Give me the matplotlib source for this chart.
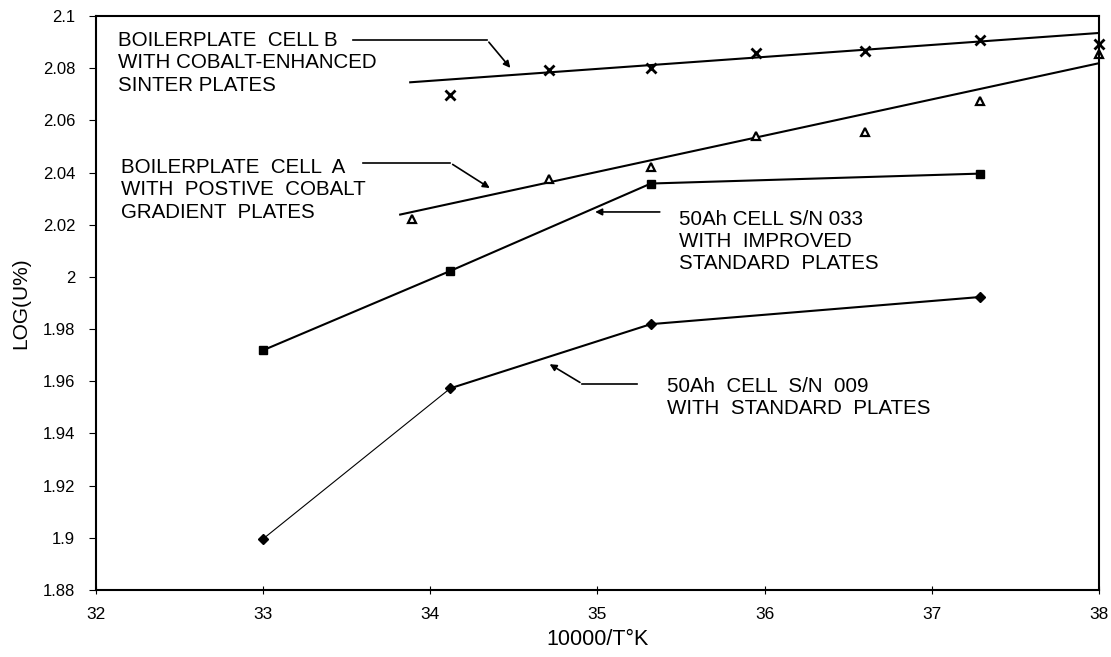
import numpy as np
import matplotlib
matplotlib.use("Agg")
from matplotlib import pyplot as plt

plt.rcParams['font.family'] = ['Liberation Sans', 'DejaVu Sans']

# boilerplate cell B (x markers) and its trend line
b_x = [34.12, 34.71, 35.32, 35.95, 36.60, 37.29, 38.00]
b_y = [2.0696, 2.0795, 2.0800, 2.0858, 2.0865, 2.0907, 2.0892]
b_trend_x = [33.88, 38.0]
b_trend_y = [2.0746, 2.0935]

# boilerplate cell A (triangles) and its trend line
a_x = [33.89, 34.71, 35.32, 35.95, 36.60, 37.29, 38.00]
a_y = [2.0223, 2.0377, 2.0423, 2.0542, 2.0554, 2.0673, 2.0854]
a_trend_x = [33.82, 38.0]
a_trend_y = [2.0239, 2.0819]

# 50Ah cell S/N 033 (squares)
c033_x = [33.0, 34.12, 35.32, 37.29]
c033_y = [1.9719, 2.0023, 2.0358, 2.0396]

# 50Ah cell S/N 009 (diamonds)
c009_x = [33.0, 34.12, 35.32, 37.29]
c009_y = [1.8996, 1.9573, 1.9819, 1.9923]

x_ticks = [32, 33, 34, 35, 36, 37, 38]
y_ticks = [1.88, 1.9, 1.92, 1.94, 1.96, 1.98, 2.0, 2.02, 2.04, 2.06, 2.08, 2.1]

fig = plt.figure(figsize=(11.11, 6.57), dpi=100)
ax = fig.add_axes([0.0864, 0.102, 0.9026, 0.8736])

ax.plot(b_trend_x, b_trend_y, color='black', lw=1.5)
ax.plot(b_x, b_y, linestyle='none', marker='x', ms=7, mew=2, color='black', clip_on=False)

ax.plot(a_trend_x, a_trend_y, color='black', lw=1.5)
ax.plot(a_x, a_y, linestyle='none', marker='^', ms=6, mew=1.6, mfc='white', mec='black', clip_on=False)

ax.plot(c033_x, c033_y, color='black', lw=1.5, marker='s', ms=6, mfc='black')

# first segment of S/N 009 is drawn fainter in the original
ax.plot(c009_x[:2], c009_y[:2], color='black', lw=0.8)
ax.plot(c009_x[1:], c009_y[1:], color='black', lw=1.5)
ax.plot(c009_x, c009_y, linestyle='none', marker='D', ms=5, color='black')

ax.set_xlim(32, 38)
ax.set_ylim(1.88, 2.1)
ax.set_xticks(x_ticks)
ax.set_yticks(y_ticks)
ax.set_yticklabels(['%g' % v for v in y_ticks])
ax.tick_params(axis='x', direction='inout', length=6, labelsize=12.5, pad=9)
ax.tick_params(axis='y', direction='out', length=5, labelsize=12, pad=10)
for s in ax.spines.values():
    s.set_linewidth(1.5)

ax.set_xlabel('10000/T°K', fontsize=15.5, labelpad=5)
ax.set_ylabel('LOG(U%)', fontsize=15, labelpad=9)

fs = 14.8
ls = 1.22
arrow = dict(arrowstyle='-|>', color='black', lw=1.2, mutation_scale=10)

ax.text(32.13, 2.0943, 'BOILERPLATE  CELL B\nWITH COBALT-ENHANCED\nSINTER PLATES',
        fontsize=fs, va='top', ha='left', linespacing=ls)
ax.plot([33.54, 34.34], [2.0908, 2.0908], color='black', lw=1.2)
ax.annotate('', xy=(34.49, 2.0793), xytext=(34.34, 2.0908), arrowprops=arrow)

ax.text(32.15, 2.0456, 'BOILERPLATE  CELL  A\nWITH  POSTIVE  COBALT\nGRADIENT  PLATES',
        fontsize=fs, va='top', ha='left', linespacing=ls)
ax.plot([33.6, 34.12], [2.0437, 2.0437], color='black', lw=1.2)
ax.annotate('', xy=(34.37, 2.0335), xytext=(34.12, 2.0437), arrowprops=arrow)

ax.text(35.49, 2.0257, '50Ah CELL S/N 033\nWITH  IMPROVED\nSTANDARD  PLATES',
        fontsize=fs, va='top', ha='left', linespacing=ls)
ax.annotate('', xy=(34.97, 2.0249), xytext=(35.39, 2.0249), arrowprops=arrow)

ax.text(35.415, 1.9617, '50Ah  CELL  S/N  009\nWITH  STANDARD  PLATES',
        fontsize=fs, va='top', ha='left', linespacing=ls)
ax.plot([34.91, 35.24], [1.9590, 1.9590], color='black', lw=1.2)
ax.annotate('', xy=(34.70, 1.9671), xytext=(34.91, 1.9590), arrowprops=arrow)

fig.savefig('out.png', dpi=100)
